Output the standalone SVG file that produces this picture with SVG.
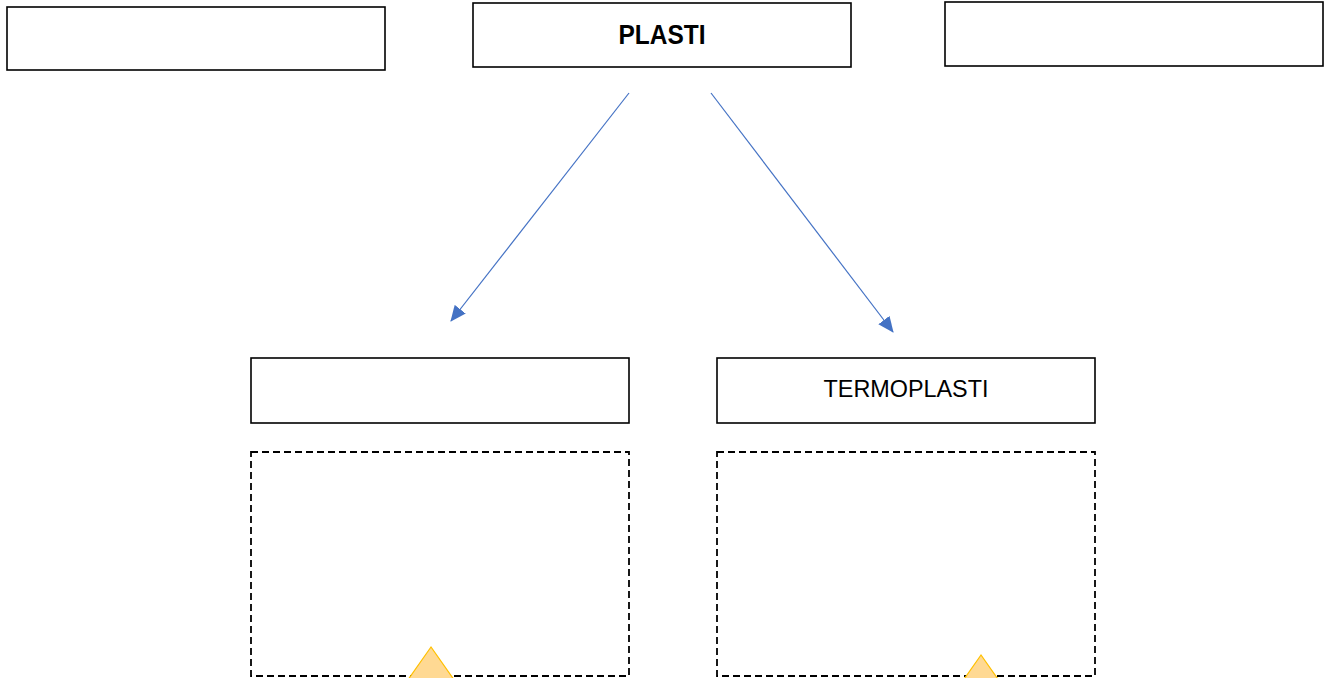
<svg xmlns="http://www.w3.org/2000/svg" width="1329" height="678" viewBox="0 0 1329 678">
<style>
.box{fill:#fff;stroke:#000;stroke-width:1.6}
.dash{fill:none;stroke:#000;stroke-width:1.8;stroke-dasharray:7,4}
.conn{stroke:#4472C4;stroke-width:1.2;fill:none}
.tri{fill:#FFD993;stroke:#FFC000;stroke-width:1.2}
.lbl{font-family:"Liberation Sans",Arial,sans-serif;fill:#000;text-anchor:middle}
</style>
<defs>
<marker id="ah" markerWidth="16" markerHeight="14" refX="15" refY="7" orient="auto" markerUnits="userSpaceOnUse" viewBox="0 0 16 14">
<path d="M0,0 L16,7 L0,14 z" fill="#4472C4"/>
</marker>
</defs>
<rect width="1329" height="678" fill="#fff"/>
<g id="box-top-left"><rect class="box" x="7" y="7" width="378" height="63"/></g>
<g id="box-plasti"><rect class="box" x="473" y="3" width="378" height="64"/>
<text class="lbl" x="662" y="44" font-size="27" font-weight="bold" textLength="87" lengthAdjust="spacingAndGlyphs">PLASTI</text></g>
<g id="box-top-right"><rect class="box" x="945" y="2" width="378" height="64"/></g>
<g id="box-mid-left"><rect class="box" x="251" y="358" width="378" height="65"/></g>
<g id="box-termoplasti"><rect class="box" x="717" y="358" width="378" height="65"/>
<text class="lbl" x="906" y="397" font-size="24.5" textLength="165" lengthAdjust="spacingAndGlyphs">TERMOPLASTI</text></g>
<g id="dash-left"><rect class="dash" x="251" y="452" width="378" height="224"/>
<polygon class="tri" points="431,647 405,684 457,684"/></g>
<g id="dash-right"><rect class="dash" x="717" y="452" width="378" height="224"/>
<polygon class="tri" points="981,655 955,692 1007,692"/></g>
<g id="connectors">
<line class="conn" x1="629" y1="93" x2="451" y2="321" marker-end="url(#ah)"/>
<line class="conn" x1="711" y1="93" x2="893" y2="332" marker-end="url(#ah)"/>
</g>
</svg>
